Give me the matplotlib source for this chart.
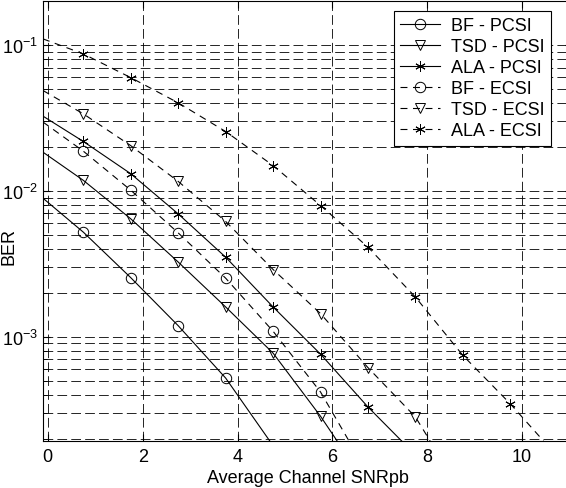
import matplotlib
matplotlib.use('Agg')
import matplotlib.pyplot as plt
from matplotlib.ticker import LogLocator, FixedLocator

plt.rcParams['font.family'] = ['Liberation Sans', 'DejaVu Sans']
plt.rcParams['mathtext.default'] = 'regular'
plt.rcParams['lines.scale_dashes'] = False

# values (line start at left edge, markers at x+0.75, end at bottom)
x_markers = [0.75, 1.75, 2.75, 3.75, 4.75, 5.75, 6.75, 7.75, 8.75, 9.75]

bf_pcsi = [0.0089, 0.00521, 0.00254, 0.00119, 5.21e-4]
bf_pcsi_end = 4.68
tsd_pcsi = [0.0184, 0.0118, 0.00643, 0.00325, 0.0016, 7.72e-4, 2.85e-4]
tsd_pcsi_end = 6.10
ala_pcsi = [0.0325, 0.0218, 0.0131, 0.00695, 0.00351, 0.0016, 7.6e-4, 3.3e-4]
ala_pcsi_end = 7.46

bf_ecsi = [0.0296, 0.0187, 0.0101, 0.00515, 0.00252, 0.00109, 4.18e-4]
bf_ecsi_end = 6.35
tsd_ecsi = [0.0487, 0.0337, 0.0204, 0.0116, 0.00617, 0.00289, 0.00144, 6.14e-4, 2.82e-4]
tsd_ecsi_end = 8.06
ala_ecsi = [0.11, 0.0868, 0.0597, 0.0401, 0.0255, 0.0149, 0.00793, 0.00411, 0.00187, 7.45e-4, 3.47e-4]
ala_ecsi_end = 10.45

labels = ['BF - PCSI', 'TSD - PCSI', 'ALA - PCSI', 'BF - ECSI', 'TSD - ECSI', 'ALA - ECSI']

x_left = -0.1
y_min, y_max = 1.93e-4, 0.2
fs = 13

fig = plt.figure(figsize=(5.66, 4.89), dpi=100)
ax = fig.add_axes([43 / 566, 47 / 489, 529 / 566, 440 / 489])
ax.set_yscale('log')

asterisk = (6, 2, 0)
series = [
    (bf_pcsi, bf_pcsi_end, 'o', '-'),
    (tsd_pcsi, tsd_pcsi_end, 'v', '-'),
    (ala_pcsi, ala_pcsi_end, asterisk, '-'),
    (bf_ecsi, bf_ecsi_end, 'o', '--'),
    (tsd_ecsi, tsd_ecsi_end, 'v', '--'),
    (ala_ecsi, ala_ecsi_end, asterisk, '--'),
]

for (vals, x_end, mk, ls), lab in zip(series, labels):
    n = len(vals) - 1
    xs = [x_left] + x_markers[:n] + [x_end]
    ys = vals + [y_min]
    kw = dict(color='black', linewidth=0.8, marker=mk, markersize=7.5,
              markerfacecolor='none', markeredgecolor='black', markeredgewidth=0.7,
              markevery=list(range(1, n + 1)), label=lab)
    if ls == '--':
        ax.plot(xs, ys, linestyle=(0, (5, 4)), **kw)
    else:
        ax.plot(xs, ys, linestyle='-', **kw)

ax.set_xlim(x_left, 11.05)
ax.set_ylim(y_min, y_max)
ax.xaxis.set_major_locator(FixedLocator([0, 2, 4, 6, 8, 10]))
ax.yaxis.set_major_locator(LogLocator(base=10))
ax.yaxis.set_minor_locator(LogLocator(base=10, subs=range(2, 10)))
ax.yaxis.set_minor_formatter(plt.NullFormatter())

grid_ls = (0, (7, 3))
ax.grid(True, which='major', axis='both', color='black', linestyle=grid_ls, linewidth=0.6)
ax.grid(True, which='minor', axis='y', color='black', linestyle=grid_ls, linewidth=0.6)
ax.set_axisbelow(True)

ax.tick_params(which='both', direction='in', top=True, right=True, labelsize=fs)
ax.tick_params(axis='x', pad=5)
ax.tick_params(which='major', length=5)
ax.tick_params(which='minor', length=3)
for sp in ax.spines.values():
    sp.set_linewidth(0.8)

ax.set_xlabel('Average Channel SNRpb', fontsize=fs, labelpad=3)
ax.set_ylabel('BER', fontsize=fs)
ax.yaxis.set_label_coords(-0.048, 0.445)

leg = ax.legend(loc='upper left', fontsize=fs, frameon=True, fancybox=False,
                edgecolor='black', framealpha=1, handlelength=2.2, handletextpad=0.6,
                labelspacing=0.22, borderpad=0.35, borderaxespad=0)
leg.set_bbox_to_anchor((394 / 566, 1 - 12 / 489), transform=fig.transFigure)
leg.get_frame().set_linewidth(0.8)

fig.savefig('out.png', dpi=100)
